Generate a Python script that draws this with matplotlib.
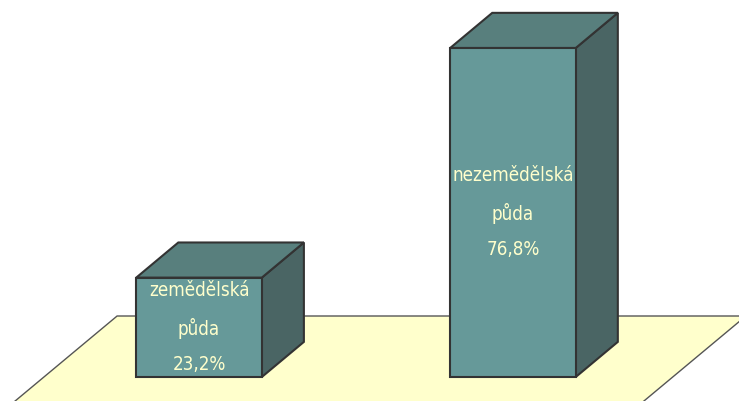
import matplotlib.pyplot as plt
from matplotlib.patches import Polygon

# data
kategorie = ["zemědělská\npůda", "nezemědělská\npůda"]
podil = [23.2, 76.8]
popisky = ["23,2%", "76,8%"]

# 3D look (data units)
SIRKA = 0.40      # bar width
HLOUBKA_X = 0.134  # depth offset in x
HLOUBKA_Y = 8.2    # depth offset in y

PREDNI = "#669999"
HORNI = "#587f7d"
BOCNI = "#4a6564"
HRANA = "#333333"
PODLAHA = "#ffffcc"
TEXT = "#ffffcc"

fig = plt.figure(figsize=(7.39, 4.01), dpi=100)
ax = fig.add_axes([0, 0, 1, 1])
ax.set_xlim(-0.634, 1.720)
ax.set_ylim(-5.6, 88.0)
ax.axis("off")

# podlaha
sklon = 0.01637
y_hore, y_dole = 14.24, -12
floor = [(-0.261, y_hore), (1.742, y_hore),
         (1.742 - (y_hore - y_dole) * sklon, y_dole),
         (-0.261 - (y_hore - y_dole) * sklon, y_dole)]
ax.add_patch(Polygon(floor, closed=True, facecolor=PODLAHA,
                     edgecolor="#555555", lw=1.0, zorder=1))

x = list(range(len(podil)))
for i, h in zip(x, podil):
    x0, x1 = i - SIRKA / 2, i + SIRKA / 2
    side = [(x1, 0), (x1 + HLOUBKA_X, HLOUBKA_Y),
            (x1 + HLOUBKA_X, h + HLOUBKA_Y), (x1, h)]
    top = [(x0, h), (x1, h), (x1 + HLOUBKA_X, h + HLOUBKA_Y),
           (x0 + HLOUBKA_X, h + HLOUBKA_Y)]
    ax.add_patch(Polygon(side, closed=True, facecolor=BOCNI,
                         edgecolor=HRANA, lw=1.5, zorder=2))
    ax.add_patch(Polygon(top, closed=True, facecolor=HORNI,
                         edgecolor=HRANA, lw=1.5, zorder=2))

ax.bar(x, podil, width=SIRKA, color=PREDNI, edgecolor=HRANA,
       linewidth=1.5, zorder=3)

for i, h, kat, pop in zip(x, podil, kategorie, popisky):
    ax.text(i, h / 2, kat + "\n" + pop, ha="center", va="center",
            color=TEXT, fontsize=13.5, linespacing=2.05, zorder=4,
            family="DejaVu Sans", stretch="condensed")

fig.savefig("out.png", dpi=100)
